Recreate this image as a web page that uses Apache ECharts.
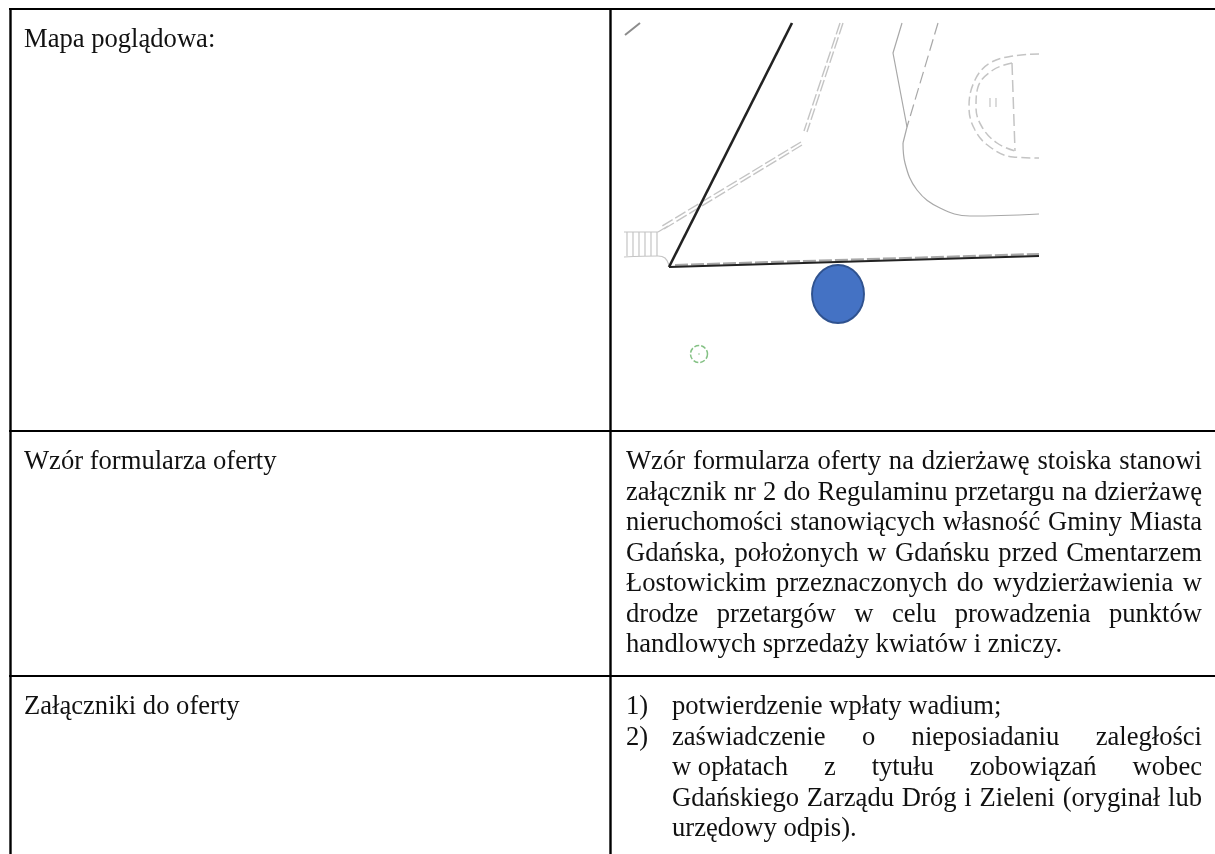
<!DOCTYPE html>
<html>
<head>
    <meta charset="utf-8">
    <title>Mapa poglądowa</title>
    <script src="https://cdn.jsdelivr.net/npm/echarts@6/dist/echarts.min.js"></script>
    <style>
        html, body { margin: 0; padding: 0; background: #fff; }
    </style>
</head>
<body>
    <div id="main" style="width: 1215px;height:854px;"></div>

    <script type="text/javascript">
        // table text, one entry per printed line
        var leftCells = [
            ['Mapa poglądowa:', 48],
            ['Wzór formularza oferty', 470],
            ['Załączniki do oferty', 715]
        ];
        var offerLines = [
            'Wzór formularza oferty na dzierżawę stoiska stanowi',
            'załącznik nr 2 do Regulaminu przetargu na dzierżawę',
            'nieruchomości stanowiących własność Gminy Miasta',
            'Gdańska, położonych w Gdańsku przed Cmentarzem',
            'Łostowickim przeznaczonych do wydzierżawienia w',
            'drodze przetargów w celu prowadzenia punktów',
            'handlowych sprzedaży kwiatów i zniczy.'
        ];
        var attachmentLines = [
            'potwierdzenie wpłaty wadium;',
            'zaświadczenie o nieposiadaniu zaległości',
            'w\u00a0opłatach z tytułu zobowiązań wobec',
            'Gdańskiego Zarządu Dróg i Zieleni (oryginał lub',
            'urzędowy odpis).'
        ];
        var attachmentNumbers = [['1)', 715], ['2)', 745.5]];

        // table rules
        var tableTop = [[9, 9], [1215, 9]];
        var tableLeft = [[10.5, 9], [10.5, 854]];
        var tableMiddle = [[610.5, 9], [610.5, 854]];
        var rowOne = [[9, 431], [1215, 431]];
        var rowTwo = [[9, 676], [1215, 676]];

        // map drawing
        var boundaryA = [[792, 23], [669, 267]];
        var boundaryB = [[669, 267], [1039, 256]];
        var pavementEdge = [[675, 265], [1039, 254]];
        var pathUpper = [[843, 23], [807, 132]];
        var pathUpper2 = [[840, 23], [804, 131]];
        var pathLower = [[801, 142], [662, 226]];
        var pathLower2 = [[802, 145], [664, 229]];
        var roadSolid = [[902, 23], [893, 53], [907, 127], [903, 143]];
        var roadCurve = [[903, 143], [905, 163], [917, 190], [940, 208], [970, 216], [1039, 214]];
        var roadDashed = [[938, 23], [907, 127]];
        var arcOuter = [[1039, 54], [1013, 56], [990, 63], [975, 80], [969, 107], [975, 130], [990, 147], [1013, 157], [1039, 158]];
        var arcInner = [[1012, 63], [993, 70], [978, 87], [976, 107], [982, 127], [997, 143], [1015, 151]];
        var arcChord = [[1012, 63], [1015, 151]];
        var markA = [[990, 98], [990, 107]];
        var markB = [[996, 98], [996, 107]];
        var cornerTick = [[625, 35], [640, 23]];
        var stairTop = [[624, 232], [658, 232]];
        var stairBottom = [[624, 257], [658, 256], [665, 258], [669, 265]];
        var stairTreads = [627, 633, 639, 645, 651, 657];
        var stairLink = [[658, 232], [668, 226]];
        var blueMarker = [[838, 294]];
        var greenMarker = [[699, 354]];

        var gray = '#a8a8a8';
        var lightGray = '#c4c4c4';

        var myChart = echarts.init(document.getElementById('main'));

        var lineSeries = function (data, color, width, type, smooth) {
            return {
                type: 'line',
                data: data,
                symbol: 'none',
                smooth: smooth ? 0.4 : false,
                silent: true,
                lineStyle: { color: color, width: width, type: type || 'solid' }
            };
        };

        var series = [
            lineSeries(tableTop, '#000', 2.2),
            lineSeries(tableLeft, '#000', 2.4),
            lineSeries(tableMiddle, '#000', 2.4),
            lineSeries(rowOne, '#000', 2.2),
            lineSeries(rowTwo, '#000', 2.2),
            lineSeries(pavementEdge, gray, 2.2, [13, 3]),
            lineSeries(pathUpper, lightGray, 1.4, [12, 3]),
            lineSeries(pathUpper2, lightGray, 1.4, [12, 3]),
            lineSeries(pathLower, lightGray, 1.4, [12, 3]),
            lineSeries(pathLower2, lightGray, 1.4, [12, 3]),
            lineSeries(roadSolid, gray, 1.2),
            lineSeries(roadCurve, gray, 1.2, 'solid', true),
            lineSeries(roadDashed, gray, 1.2, [12, 5]),
            lineSeries(arcOuter, lightGray, 1.5, [9, 4], true),
            lineSeries(arcInner, lightGray, 1.5, [9, 4], true),
            lineSeries(arcChord, lightGray, 1.5, [12, 5]),
            lineSeries(markA, lightGray, 1.2),
            lineSeries(markB, lightGray, 1.2),
            lineSeries(cornerTick, '#8c8c8c', 2),
            lineSeries(stairTop, lightGray, 1.2),
            lineSeries(stairBottom, lightGray, 1.2, 'solid', true),
            lineSeries(stairLink, lightGray, 1.2)
        ];
        stairTreads.forEach(function (x) {
            series.push(lineSeries([[x, 232], [x, 256]], lightGray, 1.2));
        });
        series.push(lineSeries(boundaryA, '#222', 2.6));
        series.push(lineSeries(boundaryB, '#222', 2.2));
        series.push({
            type: 'scatter',
            data: blueMarker,
            symbol: 'circle',
            symbolSize: [52, 58],
            silent: true,
            z: 5,
            itemStyle: { color: '#4472c4', borderColor: '#2f528f', borderWidth: 2, opacity: 1 }
        });
        series.push({
            type: 'scatter',
            data: greenMarker,
            symbol: 'circle',
            symbolSize: 17,
            silent: true,
            itemStyle: { color: 'transparent', borderColor: '#84c184', borderWidth: 1.5, borderType: [5, 2], opacity: 1 }
        });
        series.push({
            type: 'scatter',
            data: greenMarker,
            symbol: 'circle',
            symbolSize: 1.5,
            silent: true,
            itemStyle: { color: '#84c184', opacity: 1 }
        });

        // word placement for justified lines
        var textFont = '26.6px "Liberation Serif"';
        var baselineDrop = 21;
        var measure = document.createElement('canvas').getContext('2d');
        measure.font = textFont;

        var textElement = function (str, x, y) {
            return {
                type: 'text',
                x: x,
                y: y - baselineDrop,
                silent: true,
                style: {
                    text: str,
                    font: textFont,
                    fill: '#111'
                }
            };
        };
        var justified = function (str, left, right, y) {
            var words = str.split(' ');
            var used = 0;
            words.forEach(function (w) { used += measure.measureText(w).width; });
            var gap = (right - left - used) / (words.length - 1);
            var x = left;
            return words.map(function (w) {
                var el = textElement(w, x, y);
                x += measure.measureText(w).width + gap;
                return el;
            });
        };

        var lineStep = 30.5;
        var texts = [];
        leftCells.forEach(function (c) {
            texts.push(textElement(c[0], 24, c[1]));
        });
        offerLines.forEach(function (line, i) {
            var y = 470 + i * lineStep;
            if (i < offerLines.length - 1) {
                texts = texts.concat(justified(line, 626, 1202, y));
            } else {
                texts.push(textElement(line, 626, y));
            }
        });
        attachmentNumbers.forEach(function (c) {
            texts.push(textElement(c[0], 626, c[1]));
        });
        attachmentLines.forEach(function (line, i) {
            var y = 715 + i * lineStep;
            if (i === 1 || i === 2 || i === 3) {
                texts = texts.concat(justified(line, 672, 1202, y));
            } else {
                texts.push(textElement(line, 672, y));
            }
        });

        var option = {
            animation: false,
            backgroundColor: '#fff',
            grid: { left: 0, right: 0, top: 0, bottom: 0 },
            xAxis: { type: 'value', min: 0, max: 1215, show: false },
            yAxis: { type: 'value', min: 0, max: 854, inverse: true, show: false },
            series: series,
            graphic: { elements: texts }
        };
        myChart.setOption(option);
    </script>
</body>
</html>
